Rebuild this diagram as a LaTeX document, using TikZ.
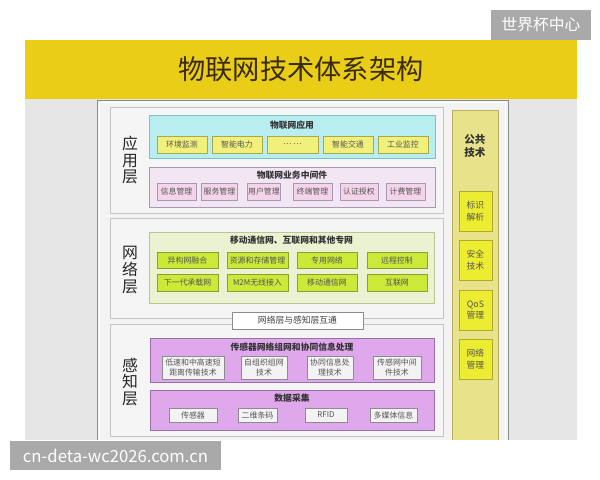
\documentclass[tikz,border=0pt]{standalone}
\usepackage{fontspec}
\setmainfont{Noto Sans CJK SC}
\definecolor{bggray}{HTML}{E6E6E6}
\definecolor{banner}{HTML}{E9CD17}
\definecolor{titlebrown}{HTML}{3A2A10}
\definecolor{markgray}{HTML}{A9A9A9}
\definecolor{framefill}{HTML}{F3F3F3}
\definecolor{frameline}{HTML}{8C8C8C}
\definecolor{layerfill}{HTML}{F5F5F5}
\definecolor{layerline}{HTML}{C4C4C4}
\definecolor{cyanfill}{HTML}{B8EEF0}
\definecolor{cyanline}{HTML}{7FBFC8}
\definecolor{yelfill}{HTML}{F0F07A}
\definecolor{yelline}{HTML}{A8A850}
\definecolor{pinkfill}{HTML}{F2E6F2}
\definecolor{pinkline}{HTML}{A898B8}
\definecolor{pinkitem}{HTML}{F4D4E8}
\definecolor{greenfill}{HTML}{EAF2D2}
\definecolor{greenline}{HTML}{B8C890}
\definecolor{greenitem}{HTML}{CCE838}
\definecolor{greenitemline}{HTML}{8AA030}
\definecolor{violetfill}{HTML}{E0A8EC}
\definecolor{violetline}{HTML}{9A70A8}
\definecolor{pubfill}{HTML}{E8E28A}
\definecolor{publine}{HTML}{B8B060}
\definecolor{pubitem}{HTML}{ECEC30}
\definecolor{pubitemline}{HTML}{B0A830}
\definecolor{itemtext}{HTML}{555555}
\begin{document}
\begin{tikzpicture}[x=0.02cm,y=-0.02cm,
		box/.style={draw,inner sep=0,outer sep=0,line width=0.4pt},
		sz/.style 2 args={minimum width=#1*0.02cm,minimum height=#2*0.02cm},
		itemfont/.style={font=\fontsize{4.5}{6}\selectfont,text=itemtext,align=center},
		headfont/.style={font=\bfseries\fontsize{5}{6}\selectfont,text=black!80},
		layerfont/.style={font=\fontsize{9}{9.6}\selectfont,align=center,text=black!85},
		markbox/.style={fill=markgray,text=white,inner sep=0,outer sep=0}]
		\path [use as bounding box,fill=white] (0,0) rectangle (600,480);
		% background and banner
		\fill [bggray] (25,99) rectangle (577,440);
		\node [fill=banner,sz={552}{59},inner sep=0] (banner) at (301,69.5) {};
		\node [font=\fontsize{15.5}{16}\selectfont,text=titlebrown] (title) at (banner) {物联网技术体系架构};
		\node [markbox,sz={100}{30},font=\fontsize{9}{10}\selectfont] (markcn) at (541,25) {世界杯中心};
		\fill [framefill] (97,100) rectangle (508,440);
		\draw [draw=frameline,line width=0.5pt] (97,440) -- (97,100) -- (508,100) -- (508,440);
		\draw [draw=white,line width=0.5pt] (99.5,440) -- (99.5,102.5) -- (505.5,102.5) -- (505.5,440);
		% three layers
		\node [box,sz={333}{106},fill=layerfill,draw=layerline] (app) at (276.5,160) {};
		\node [box,sz={333}{100},fill=layerfill,draw=layerline] (net) at (276.5,268) {};
		\node [box,sz={333}{112},fill=layerfill,draw=layerline] (sense) at (276.5,380) {};
		\node [layerfont] (applabel) at (130,160) {应\\用\\层};
		\node [layerfont] (netlabel) at (130,270) {网\\络\\层};
		\node [layerfont] (senselabel) at (130,382) {感\\知\\层};
		% application layer
		\node [box,sz={286}{43},fill=cyanfill,draw=cyanline] (appuse) at (292,136.5) {};
		\node [headfont] (appusehead) at (292,125) {物联网应用};
		\node [box,sz={50}{17},fill=yelfill,draw=yelline,itemfont] (env) at (182,144.5) {环境监测};
		\node [box,sz={50}{17},fill=yelfill,draw=yelline,itemfont] (grid) at (237,144.5) {智能电力};
		\node [box,sz={51}{17},fill=yelfill,draw=yelline,itemfont] (dots) at (292.5,144.5) {… …};
		\node [box,sz={50}{17},fill=yelfill,draw=yelline,itemfont] (traffic) at (348,144.5) {智能交通};
		\node [box,sz={50}{17},fill=yelfill,draw=yelline,itemfont] (industry) at (403,144.5) {工业监控};
		\node [box,sz={286}{40},fill=pinkfill,draw=pinkline] (middle) at (292,187) {};
		\node [headfont] (middlehead) at (292,175) {物联网业务中间件};
		\node [box,sz={39}{17},fill=pinkitem,draw=pinkline,itemfont] (info) at (176.5,191.5) {信息管理};
		\node [box,sz={36}{17},fill=pinkitem,draw=pinkline,itemfont] (service) at (219.5,191.5) {服务管理};
		\node [box,sz={33}{17},fill=pinkitem,draw=pinkline,itemfont] (user) at (264,191.5) {用户管理};
		\node [box,sz={39}{17},fill=pinkitem,draw=pinkline,itemfont] (terminal) at (312.5,191.5) {终端管理};
		\node [box,sz={38}{17},fill=pinkitem,draw=pinkline,itemfont] (auth) at (359,191.5) {认证授权};
		\node [box,sz={39}{17},fill=pinkitem,draw=pinkline,itemfont] (billing) at (405.5,191.5) {计费管理};
		% network layer
		\node [box,sz={285}{71},fill=greenfill,draw=greenline] (nets) at (291.5,267.5) {};
		\node [headfont] (netshead) at (291.5,240) {移动通信网、互联网和其他专网};
		\node [box,sz={61}{16},fill=greenitem,draw=greenitemline,itemfont] (hetero) at (187.5,260) {异构网融合};
		\node [box,sz={61}{16},fill=greenitem,draw=greenitemline,itemfont] (storage) at (257.5,260) {资源和存储管理};
		\node [box,sz={60}{16},fill=greenitem,draw=greenitemline,itemfont] (private) at (327,260) {专用网络};
		\node [box,sz={60}{16},fill=greenitem,draw=greenitemline,itemfont] (remote) at (397,260) {远程控制};
		\node [box,sz={61}{17},fill=greenitem,draw=greenitemline,itemfont] (nextgen) at (187.5,282.5) {下一代承载网};
		\node [box,sz={61}{17},fill=greenitem,draw=greenitemline,itemfont] (mtom) at (257.5,282.5) {M2M无线接入};
		\node [box,sz={60}{17},fill=greenitem,draw=greenitemline,itemfont] (mobile) at (327,282.5) {移动通信网};
		\node [box,sz={60}{17},fill=greenitem,draw=greenitemline,itemfont] (internet) at (397,282.5) {互联网};
		\node [box,sz={131}{17},fill=white,draw=frameline,font=\fontsize{5}{6}\selectfont,text=black!75] (bridge) at (297.5,320.5) {网络层与感知层互通};
		% sensing layer
		\node [box,sz={284}{44},fill=violetfill,draw=violetline] (sensornet) at (292,360) {};
		\node [headfont] (sensornethead) at (292,347) {传感器网络组网和协同信息处理};
		\node [box,sz={62}{23},fill=framefill,draw=frameline,itemfont] (shortrange) at (193,367.5) {低速和中高速短\\距离传输技术};
		\node [box,sz={46}{23},fill=framefill,draw=frameline,itemfont] (adhoc) at (264,367.5) {自组织组网\\技术};
		\node [box,sz={46}{23},fill=framefill,draw=frameline,itemfont] (coop) at (330,367.5) {协同信息处\\理技术};
		\node [box,sz={48}{23},fill=framefill,draw=frameline,itemfont] (sensormid) at (397,367.5) {传感网中间\\件技术};
		\node [box,sz={284}{40},fill=violetfill,draw=violetline] (collect) at (292,410) {};
		\node [headfont] (collecthead) at (292,398) {数据采集};
		\node [box,sz={48}{14},fill=framefill,draw=frameline,itemfont] (sensor) at (193,415) {传感器};
		\node [box,sz={39}{14},fill=framefill,draw=frameline,itemfont] (qrcode) at (257.5,415) {二维条码};
		\node [box,sz={42}{14},fill=framefill,draw=frameline,itemfont] (rfid) at (326,415) {RFID};
		\node [box,sz={47}{14},fill=framefill,draw=frameline,itemfont] (media) at (393.5,415) {多媒体信息};
		% common technology column
		\draw [fill=pubfill,draw=publine,line width=0.5pt] (452,440) -- (452,110) -- (498,110) -- (498,440);
		\node [font=\bfseries\fontsize{6}{7.2}\selectfont,align=center,text=black!80] (pubhead) at (475,146) {公共\\技术};
		\node [box,sz={33}{40},fill=pubitem,draw=pubitemline,font=\fontsize{5}{6.5}\selectfont,text=itemtext,align=center] (ident) at (475.5,211) {标识\\解析};
		\node [box,sz={33}{40},fill=pubitem,draw=pubitemline,font=\fontsize{5}{6.5}\selectfont,text=itemtext,align=center] (safety) at (475.5,260) {安全\\技术};
		\node [box,sz={33}{40},fill=pubitem,draw=pubitemline,font=\fontsize{5}{6.5}\selectfont,text=itemtext,align=center] (qos) at (475.5,310) {QoS\\管理};
		\node [box,sz={33}{40},fill=pubitem,draw=pubitemline,font=\fontsize{5}{6.5}\selectfont,text=itemtext,align=center] (netman) at (475.5,359) {网络\\管理};
		\node [markbox,sz={211}{29},font=\fontsize{9.5}{11}\selectfont] (markurl) at (115.5,455.5) {cn-deta-wc2026.com.cn};
	\end{tikzpicture}
\end{document}
